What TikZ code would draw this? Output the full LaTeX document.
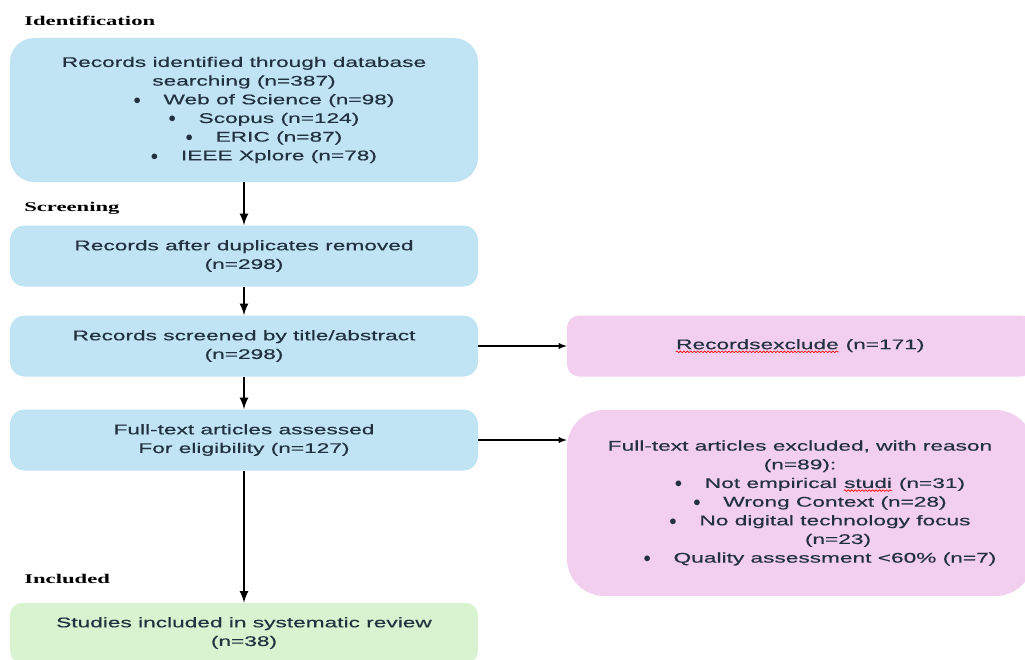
\documentclass[tikz,border=0pt]{standalone}
\usepackage{fontspec}
\setmainfont{Liberation Sans}[FakeStretch=1.62, FakeBold=0.45]
\newfontfamily\stagefont{Liberation Serif}[FakeStretch=1.7]
\usepackage{xcolor}
\usepackage{tikz}
\usetikzlibrary{positioning,decorations.pathmorphing}

\definecolor{boxblue}{HTML}{C1E4F5}
\definecolor{boxpink}{HTML}{F2CFEE}
\definecolor{boxgreen}{HTML}{D9F2D0}
\definecolor{txtgray}{HTML}{22313F}

\newcommand{\blt}[1]{\hspace*{30pt}$\bullet$\hspace{17pt}#1}
\newcommand{\spell}[1]{\tikz[baseline=(sw.base), x=1pt, y=1pt]{%
	\node[shape=rectangle, inner sep=0pt, minimum size=0pt, fill=none, draw=none,
		sharp corners] (sw) {#1};
	\draw[red, fill=none, sharp corners, line width=0.5pt, decorate,
		decoration={snake, amplitude=0.6pt, segment length=2.6pt}]
		([yshift=-2pt]sw.base west) -- ([yshift=-2pt]sw.base east);}}

\begin{document}
\begin{tikzpicture}
			[x=0.75pt, y=-0.75pt,
			font=\fontsize{10.5}{14}\selectfont, text=txtgray,
			stage/.style={font=\stagefont\bfseries\fontsize{10}{12}\selectfont,
				text=black, anchor=west, inner sep=0pt},
			bluebox/.style={fill=boxblue, rounded corners=11pt, minimum width=351pt,
				minimum height=45.75pt, align=center, inner sep=0pt},
			pinkbox/.style={fill=boxpink, rounded corners=9pt, minimum width=349.5pt,
				minimum height=45.75pt, align=center, inner sep=0pt},
			greenbox/.style={fill=boxgreen, rounded corners=9pt, minimum width=351pt,
				minimum height=45pt, align=center, inner sep=0pt},
			flow/.style={-latex, line width=2pt},
			side/.style={-latex, line width=1.1pt},
			]
			\useasboundingbox (0,0) rectangle (1025,660);
			
			% stage labels
			\node[stage] (lid) at (24,21) {Identification};
			\node[stage] (lscr) at (24,208) {Screening};
			\node[stage] (linc) at (24,579) {Included};
			
			% main column
			\node[bluebox, rounded corners=18pt, minimum height=108pt] (ident) at (244,110)
				{Records identified through database\\
				 searching (n=387)\\
				 \blt{Web of Science (n=98)}\\
				 \blt{Scopus (n=124)}\\
				 \blt{ERIC (n=87)}\\
				 \blt{IEEE Xplore (n=78)}};
			\node[bluebox] (dup) at (244,256) {Records after duplicates removed\\(n=298)};
			\node[bluebox] (scr) at (244,346) {Records screened by title/abstract\\(n=298)};
			\node[bluebox] (full) at (244,440) {Full-text articles assessed\\For eligibility (n=127)};
			\node[greenbox] (incl) at (244,633) {Studies included in systematic review\\(n=38)};
			
			% exclusions
			\node[pinkbox] (exc1) at (800,346) {\spell{Recordsexclude} (n=171)};
			\node[pinkbox, rounded corners=28pt, minimum height=139.5pt] (exc2) at (800,503)
				{Full-text articles excluded, with reason\\
				 (n=89):\\
				 \blt{Not empirical \spell{studi} (n=31)}\\
				 \blt{Wrong Context (n=28)}\\
				 \blt{No digital technology focus}\\
				 \hspace*{57pt}(n=23)\\
				 \blt{Quality assessment <60\% (n=7)}};
			
			\draw[flow] (ident.south) -- (dup.north);
			\draw[flow] (dup.south) -- (scr.north);
			\draw[flow] (scr.south) -- (full.north);
			\draw[flow] (full.south) -- (incl.north);
			\draw[side] (scr.east) -- (exc1.west);
			\draw[side] (full.east) -- (full.east -| exc2.west);
			
		\end{tikzpicture}
\end{document}
